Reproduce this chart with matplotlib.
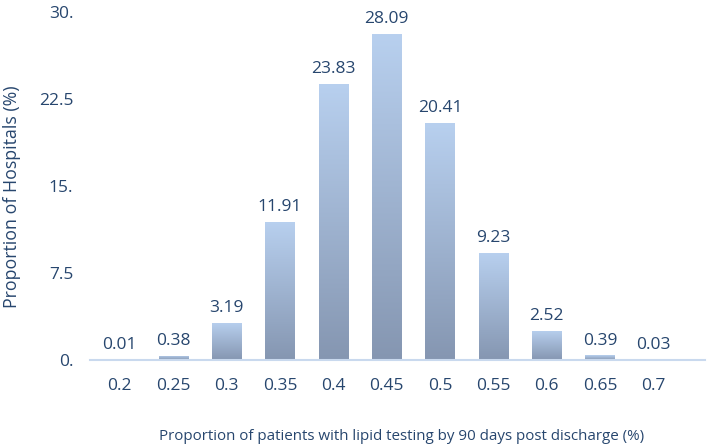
import numpy as np
import matplotlib.pyplot as plt
from matplotlib.colors import LinearSegmentedColormap

# данные
categories = ['0.2', '0.25', '0.3', '0.35', '0.4', '0.45', '0.5', '0.55', '0.6', '0.65', '0.7']
values = [0.01, 0.38, 3.19, 11.91, 23.83, 28.09, 20.41, 9.23, 2.52, 0.39, 0.03]
yticks = [0, 7.5, 15, 22.5, 30]
ytick_labels = ['0.', '7.5', '15.', '22.5', '30.']

text_color = '#27466e'
plt.rcParams['font.family'] = ['Open Sans', 'DejaVu Sans']

fig = plt.figure(figsize=(7.09, 4.46), dpi=100)
ax = fig.add_axes([90 / 709, 1 - 360 / 446, 615 / 709, 348 / 446])

x = np.arange(len(categories))
width = 0.55
bars = ax.bar(x, values, width=width, color='none', edgecolor='none')

# градиент внутри каждого столбца
cmap = LinearSegmentedColormap.from_list('grad', ['#8596b1', '#b8d0ef'])
grad = np.linspace(0, 1, 256).reshape(-1, 1)
for b in bars:
    h = b.get_height()
    if h <= 0:
        continue
    x0 = b.get_x()
    im = ax.imshow(grad, cmap=cmap, origin='lower', aspect='auto',
                   extent=[x0, x0 + b.get_width(), 0, h], zorder=2)
    im.set_clip_path(b)

for xi, v in zip(x, values):
    ax.text(xi, v + 0.6, f'{v:.2f}', ha='center', va='bottom',
            fontsize=12.5, color=text_color)

ax.set_xlim(-0.56, 10.97)
ax.set_ylim(0, 30)
ax.set_xticks(x)
ax.set_xticklabels(categories)
ax.set_yticks(yticks)
ax.set_yticklabels(ytick_labels)
ax.tick_params(axis='both', length=0, labelsize=12.5, colors=text_color)
ax.tick_params(axis='x', pad=13)
ax.tick_params(axis='y', pad=12)

for s in ['top', 'right', 'left']:
    ax.spines[s].set_visible(False)
ax.spines['bottom'].set_color('#c9d9ee')
ax.spines['bottom'].set_linewidth(1.5)

fig.text(12 / 709, 1 - 197 / 446, 'Proportion of Hospitals (%)', rotation=90,
         ha='center', va='center', fontsize=12.8, color=text_color)
fig.text(402 / 709, 1 - 436 / 446,
         'Proportion of patients with lipid testing by 90 days post discharge (%)',
         ha='center', va='center', fontsize=10.9, color=text_color)

fig.savefig('out.png', dpi=100)
